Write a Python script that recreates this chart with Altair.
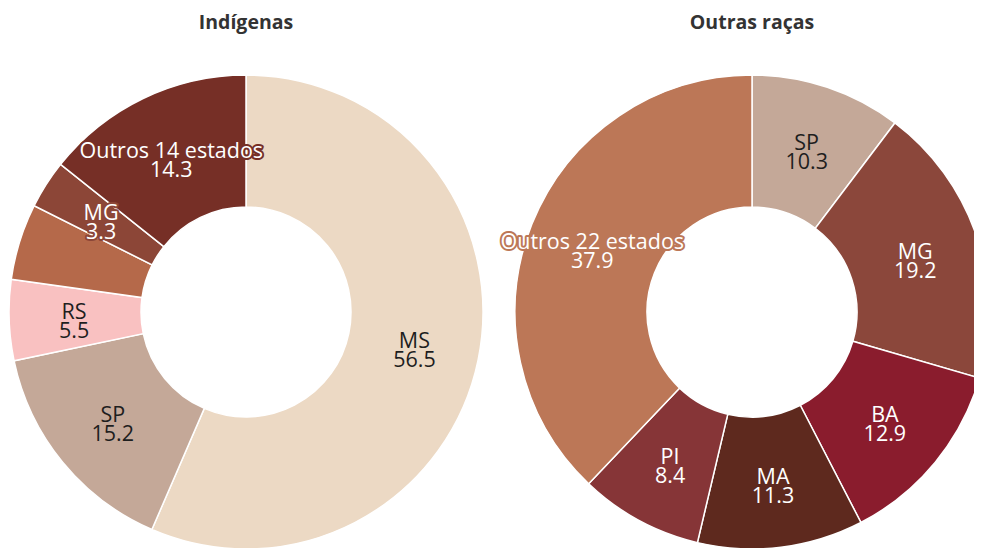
import altair as alt
import pandas as pd

# Indígenas
ind_labels = ["MS", "SP", "RS", "", "MG", "Outros 14 estados"]
ind_values = [56.5, 15.2, 5.5, 5.2, 3.3, 14.3]
ind_colors = ["#ecd9c4", "#c4a898", "#f9c1c1", "#b5694a", "#8c4637", "#762f26"]
ind_text = ["#1e1e1e", "#1e1e1e", "#1e1e1e", "#ffffff", "#ffffff", "#ffffff"]

# Outras raças
out_labels = ["SP", "MG", "BA", "MA", "PI", "Outros 22 estados"]
out_values = [10.3, 19.2, 12.9, 11.3, 8.4, 37.9]
out_colors = ["#c4a898", "#8b473b", "#8a1c2d", "#5e291e", "#863537", "#bc7757"]
out_text = ["#1e1e1e", "#ffffff", "#ffffff", "#ffffff", "#ffffff", "#ffffff"]

titles = ["Indígenas", "Outras raças"]

FONT = "Open Sans"
W, H = 966, 540
R_OUT, R_IN, R_LAB = 237, 105, 172
CX = [238, 744]
CY = 304
FS = 21.5


def make_df(labels, values, colors, tcolors):
    rows = []
    for i, (l, v, c, t) in enumerate(zip(labels, values, colors, tcolors)):
        rows.append({
            "ord": i,
            "label": l,
            "value": v,
            "color": c,
            "tc": t,
            "txt": (l + "\n" + f"{v:.1f}") if l else "",
            "halo": bool(t == "#ffffff" and l != ""),
        })
    return pd.DataFrame(rows)


def donut(df, cx, title):
    base = alt.Chart(df).encode(
        theta=alt.Theta("value:Q", stack=True),
        order=alt.Order("ord:Q"),
        x=alt.value(cx),
        y=alt.value(CY),
    )
    arcs = base.mark_arc(
        outerRadius=R_OUT, innerRadius=R_IN, stroke="white", strokeWidth=1.5
    ).encode(color=alt.Color("color:N", scale=None))
    halo = base.mark_text(
        radius=R_LAB, font=FONT, fontSize=FS, lineBreak="\n", lineHeight=19,
        strokeJoin="round", dy=-5
    ).encode(
        text="txt:N",
        stroke=alt.Stroke("color:N", scale=None),
        color=alt.Color("color:N", scale=None),
        strokeWidth=alt.condition("datum.halo", alt.value(4), alt.value(0)),
        opacity=alt.condition("datum.halo", alt.value(1), alt.value(0)),
    )
    labels = base.mark_text(
        radius=R_LAB, font=FONT, fontSize=FS, lineBreak="\n", lineHeight=19,
        dy=-5
    ).encode(
        text="txt:N",
        color=alt.Color("tc:N", scale=None),
    )
    ttl = alt.Chart(pd.DataFrame({"t": [title]})).mark_text(
        font=FONT, fontSize=19.5, fontWeight="bold", color="#333333",
        baseline="alphabetic", align="center"
    ).encode(text="t:N", x=alt.value(cx), y=alt.value(21))
    return [arcs, halo, labels, ttl]


left = donut(make_df(ind_labels, ind_values, ind_colors, ind_text), CX[0], titles[0])
right = donut(make_df(out_labels, out_values, out_colors, out_text), CX[1], titles[1])

chart = alt.layer(*left, *right).properties(
    width=W, height=H, padding=0,
    autosize=alt.AutoSizeParams(type="none"),
).configure_view(stroke=None)

chart.save("out.html", embed_options={"renderer": "svg", "actions": False})
